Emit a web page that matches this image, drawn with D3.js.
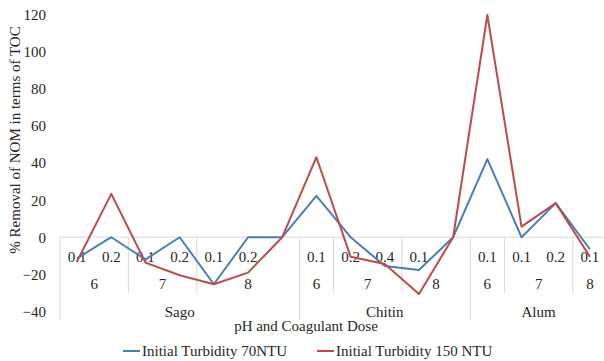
<!DOCTYPE html>
<html>
<head>
<meta charset="utf-8">
<script src="https://cdn.jsdelivr.net/npm/d3@7"></script>
<style>
  html, body { margin: 0; padding: 0; background: #fff; }
  svg { display: block; }
  text { font-family: "Liberation Serif", "DejaVu Serif", serif; fill: #262626; }
</style>
</head>
<body>
<svg id="chart" width="604" height="361"></svg>
<script>
// Category levels (innermost first)
const doses      = ["0.1","0.2","0.1","0.2","0.1","0.2","","0.1","0.2","0.4","0.1","","0.1","0.1","0.2","0.1"];
const phLevels   = ["6","6","7","7","8","8","8","6","7","7","8","8","6","7","7","8"];
const coagulants = ["Sago","Sago","Sago","Sago","Sago","Sago","Sago","Chitin","Chitin","Chitin","Chitin","Chitin","Alum","Alum","Alum","Alum"];

// % removal of NOM (TOC)
const turbidity70  = [-11.4, 0, -12, 0, -25.4, 0, 0, 22.3, 0, -15.5, -17.7, 0, 42.2, 0, 18.4, -6.5];
const turbidity150 = [-13, 23.4, -13.7, -20.5, -25.4, -19.1, 0, 43.2, -10.5, -14.5, -30.7, 0, 120, 5.7, 18.4, -10.5];

const yTicks = [-40, -20, 0, 20, 40, 60, 80, 100, 120];
const seriesNames = ["Initial Turbidity 70NTU", "Initial Turbidity 150 NTU"];
const seriesColors = ["#4a7ebb", "#be4b48"];

const svg = d3.select("#chart");
const idx = d3.range(doses.length);

const x = d3.scaleBand().domain(idx).range([60, 607]).paddingInner(0).paddingOuter(0);
const y = d3.scaleLinear().domain([-40, 120]).range([311.3, 15]);
const cx = i => x(i) + x.bandwidth() / 2;
const y0 = y(0);
const gridColor = "#d9d9d9";

// value axis labels
const yAxis = d3.axisLeft(y).tickValues(yTicks).tickSize(0).tickPadding(0);
const gy = svg.append("g").attr("transform", "translate(46,0)").call(yAxis);
gy.select(".domain").remove();
gy.selectAll("text")
  .style("font-family", "Liberation Serif, serif")
  .style("font-size", "15px")
  .attr("fill", "#262626");

// horizontal category axis line at zero
svg.append("line")
  .attr("x1", 60).attr("x2", 604)
  .attr("y1", y0).attr("y2", y0)
  .attr("stroke", gridColor).attr("stroke-width", 1);

// group runs for a level
function runs(arr, parentArr) {
  const out = [];
  let start = 0;
  for (let i = 1; i <= arr.length; i++) {
    if (i === arr.length || arr[i] !== arr[i - 1] || (parentArr && parentArr[i] !== parentArr[i - 1])) {
      out.push({ label: arr[start], start, end: i - 1 });
      start = i;
    }
  }
  return out;
}
const phRuns = runs(phLevels, coagulants);
const coagRuns = runs(coagulants);

const rowDose = 257, rowPh = 284, rowCoag = 312;
const sepPhBottom = 293, sepCoagBottom = 320;

// separators between pH groups
phRuns.forEach(r => {
  const xs = x(r.start);
  const isCoagEdge = coagRuns.some(c => c.start === r.start);
  svg.append("line")
    .attr("x1", xs).attr("x2", xs)
    .attr("y1", y0).attr("y2", isCoagEdge ? sepCoagBottom : sepPhBottom)
    .attr("stroke", gridColor).attr("stroke-width", 1);
});

const labelStyle = sel => sel
  .attr("text-anchor", "middle")
  .attr("dominant-baseline", "central")
  .style("font-size", "15px");

// dose labels
svg.append("g").selectAll("text").data(idx).join("text")
  .attr("x", i => cx(i)).attr("y", rowDose)
  .text(i => doses[i]).call(labelStyle);

// pH labels
svg.append("g").selectAll("text").data(phRuns).join("text")
  .attr("x", r => (x(r.start) + x(r.end) + x.bandwidth()) / 2).attr("y", rowPh)
  .text(r => r.label).call(labelStyle);

// coagulant labels
svg.append("g").selectAll("text").data(coagRuns).join("text")
  .attr("x", r => (x(r.start) + x(r.end) + x.bandwidth()) / 2).attr("y", rowCoag)
  .text(r => r.label).call(labelStyle);

// series lines
const line = d3.line().x(i => cx(i[0])).y(d => y(d[1]));
[turbidity70, turbidity150].forEach((vals, k) => {
  svg.append("path")
    .datum(vals.map((v, i) => [i, v]))
    .attr("d", line)
    .attr("fill", "none")
    .attr("stroke", seriesColors[k])
    .attr("stroke-width", 2)
    .attr("stroke-linejoin", "round");
});

// axis titles
svg.append("text")
  .attr("x", 306).attr("y", 326)
  .attr("text-anchor", "middle").attr("dominant-baseline", "central")
  .style("font-size", "15px")
  .text("pH and Coagulant Dose");

svg.append("text")
  .attr("transform", "translate(15,140) rotate(-90)")
  .attr("text-anchor", "middle").attr("dominant-baseline", "central")
  .style("font-size", "15px")
  .text("% Removal of NOM in terms of TOC");

// legend
const legendX = [123, 317];
seriesNames.forEach((name, k) => {
  const g = svg.append("g").attr("transform", `translate(${legendX[k]},351)`);
  g.append("line").attr("x1", 0).attr("x2", 17).attr("y1", 0).attr("y2", 0)
    .attr("stroke", seriesColors[k]).attr("stroke-width", 2);
  g.append("text").attr("x", 19).attr("y", 0)
    .attr("dominant-baseline", "central")
    .style("font-size", "15px")
    .text(name);
});
</script>
</body>
</html>
